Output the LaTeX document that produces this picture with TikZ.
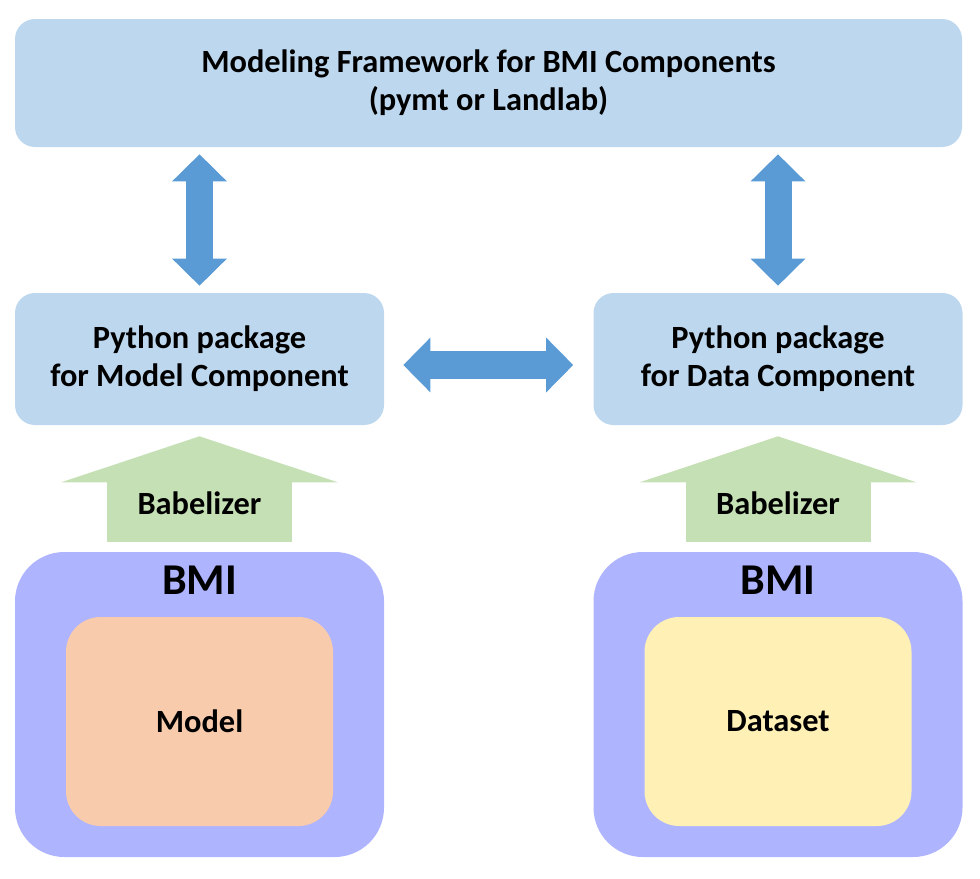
\documentclass[tikz,border=0pt]{standalone}
\usepackage{fontspec}
\setmainfont{Carlito}
\usepackage{tikz}
\usetikzlibrary{positioning,arrows.meta}

\definecolor{paleblue}{HTML}{BDD7EE}
\definecolor{arrowblue}{HTML}{5B9BD5}
\definecolor{palegreen}{HTML}{C5E0B4}
\definecolor{bmiviolet}{HTML}{AFB4FF}
\definecolor{modelpeach}{HTML}{F8CBAD}
\definecolor{datayellow}{HTML}{FFF0B6}

\begin{document}
\begin{tikzpicture}[
x=0.75pt, y=-0.75pt, font=\fontsize{24.3}{28.5}\selectfont\bfseries, boxblue/.style={rectangle, rounded corners=15pt, align=center, fill=paleblue}, bmibox/.style={rectangle, rounded corners=37pt, minimum width=276.75pt, minimum height=228.75pt, fill=bmiviolet}, inner/.style={rectangle, rounded corners=26pt, minimum width=200.25pt, minimum height=156.75pt, align=center}, bmilabel/.style={font=\fontsize{33}{38}\selectfont\bfseries}, dblarrow/.style={arrowblue, {Triangle[width=39.75pt, length=20.25pt]}-{Triangle[width=39.75pt, length=20.25pt]}}, babelarrow/.style={palegreen, line width=138.75pt, -{Triangle[width=206.25pt, length=34.5pt]}, shorten <=7.5pt, shorten >=8.25pt} ]
\useasboundingbox (0,0) rectangle (980,878);
\node[boxblue, minimum width=710.25pt, minimum height=96pt] (framework) at (488.5,83) {Modeling Framework for BMI Components\\(pymt or Landlab)};
\node[boxblue, minimum width=276.75pt, minimum height=99pt] (pymodel) at (199.5,359) {Python package\\for Model Component};
\node[boxblue, minimum width=276.75pt, minimum height=99pt] (pydata) at (778,359) {Python package\\for Data Component};
\node[bmibox] (bmimodel) at (199.5,704.5) {};
\node[bmibox] (bmidata) at (778,704.5) {};
\node[bmilabel, below=7pt of bmimodel.north] {BMI};
\node[bmilabel, below=7pt of bmidata.north] {BMI};
\node[inner, fill=modelpeach] (model) at (199.5,721.5) {Model};
\node[inner, fill=datayellow] (dataset) at (778,721.5) {Dataset};
\draw[dblarrow, line width=20.25pt, shorten <=5.25pt, shorten >=5.25pt] (framework.south -| pymodel) -- (pymodel);
\draw[dblarrow, line width=20.25pt, shorten <=5.25pt, shorten >=5.25pt] (framework.south -| pydata) -- (pydata);
\draw[dblarrow, line width=21pt, shorten <=14.25pt, shorten >=15pt] ([yshift=-4.5pt]pymodel.east) -- ([yshift=-4.5pt]pydata.west);
\draw[babelarrow] (bmimodel.north) -- (pymodel.south) node[pos=0.38, text=black] {Babelizer};
\draw[babelarrow] (bmidata.north) -- (pydata.south) node[pos=0.38, text=black] {Babelizer};
\end{tikzpicture}
\end{document}
